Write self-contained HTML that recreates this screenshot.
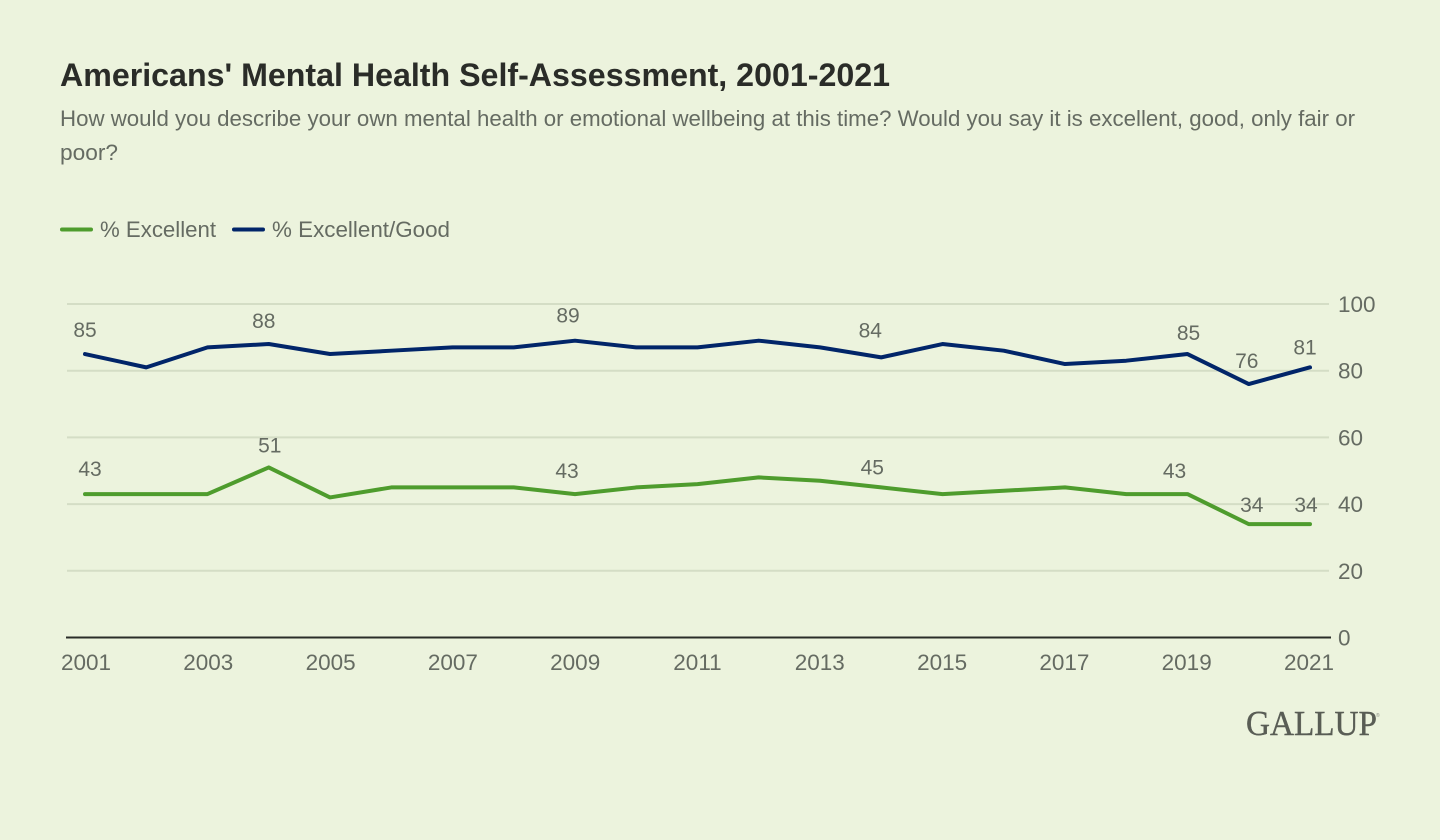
<!DOCTYPE html>
<html lang="en">
<head>
<meta charset="utf-8">
<title>Americans' Mental Health Self-Assessment, 2001-2021</title>
<style>
  html, body { margin: 0; padding: 0; background: #ecf3dd; }
  svg { display: block; }
  text { font-family: "Liberation Sans", sans-serif; }
</style>
</head>
<body>
<svg id="chart" width="1440" height="840" viewBox="0 0 1440 840" xmlns="http://www.w3.org/2000/svg">
  <rect x="0" y="0" width="1440" height="840" fill="#ecf3dd"/>
  <text x="60" y="86" font-size="32" font-weight="700" fill="#2a2c28" textLength="830" lengthAdjust="spacingAndGlyphs">Americans' Mental Health Self-Assessment, 2001-2021</text>
  <text x="60" y="126" font-size="22" fill="#656b62" textLength="1295" lengthAdjust="spacingAndGlyphs">How would you describe your own mental health or emotional wellbeing at this time? Would you say it is excellent, good, only fair or</text>
  <text x="60" y="160" font-size="22" fill="#656b62" textLength="58" lengthAdjust="spacingAndGlyphs">poor?</text>

  <g>
    <line x1="62" y1="229.5" x2="91" y2="229.5" stroke="#4e9c2d" stroke-width="4" stroke-linecap="round"/>
    <text x="100" y="237" font-size="22" fill="#656b62" textLength="116" lengthAdjust="spacingAndGlyphs">% Excellent</text>
    <line x1="234" y1="229.5" x2="263" y2="229.5" stroke="#012569" stroke-width="4" stroke-linecap="round"/>
    <text x="272" y="237" font-size="22" fill="#656b62" textLength="178" lengthAdjust="spacingAndGlyphs">% Excellent/Good</text>
  </g>

  <g id="grid"></g>
  <g id="yaxis"></g>
  <g id="xaxis"></g>
  <g id="series"></g>
  <g id="labels"></g>

  <g>
    <text x="1246" y="735" font-size="35" fill="#595d55" stroke="#595d55" stroke-width="0.4" textLength="131" lengthAdjust="spacingAndGlyphs" style="font-family:'Liberation Serif',serif">GALLUP</text>
    <text x="1376" y="717" font-size="5" fill="#8a8e84">®</text>
  </g>
</svg>

<script>
const years = [2001,2002,2003,2004,2005,2006,2007,2008,2009,2010,2011,2012,2013,2014,2015,2016,2017,2018,2019,2020,2021];
const excellent = [43,43,43,51,42,45,45,45,43,45,46,48,47,45,43,44,45,43,43,34,34];
const excellentGood = [85,81,87,88,85,86,87,87,89,87,87,89,87,84,88,86,82,83,85,76,81];
const yTicks = [0,20,40,60,80,100];
const xTicks = [2001,2003,2005,2007,2009,2011,2013,2015,2017,2019,2021];
const labelledYearsExcellent = [2001,2004,2009,2014,2019,2020,2021];
const labelledYearsGood = [2001,2004,2009,2014,2019,2020,2021];

const NS = 'http://www.w3.org/2000/svg';
function x(year) { return 85 + (year - 2001) * 61.25; }
function y(value) { return 637.5 - value * 3.335; }
function xTickPos(year) { return 86 + (year - 2001) * 61.15; }

function make(tag, parent, attrs, content) {
  const el = document.createElementNS(NS, tag);
  for (const k in attrs) el.setAttribute(k, attrs[k]);
  if (content !== undefined) el.textContent = content;
  parent.appendChild(el);
  return el;
}

const gridG = document.getElementById('grid');
const yG = document.getElementById('yaxis');
const xG = document.getElementById('xaxis');
const seriesG = document.getElementById('series');
const labelsG = document.getElementById('labels');

yTicks.forEach(function (t) {
  const line = make('line', gridG, {
    x1: t === 0 ? 66 : 67, x2: t === 0 ? 1331 : 1329, y1: y(t), y2: y(t),
    stroke: t === 0 ? '#2a2c28' : '#d4ddc5', 'stroke-width': 2
  });
  
  
  const label = make('text', yG, {
    x: 1338, y: y(t) + 8, 'font-size': 22.5, fill: '#656b62'
  }, String(t));
  
  
});

xTicks.forEach(function (t) {
  const label = make('text', xG, {
    x: xTickPos(t), y: 670, 'font-size': 22.5, fill: '#656b62', 'text-anchor': 'middle'
  }, String(t));
  
  
});

function drawLine(values, color, name) {
  const pts = values.map(function (v, i) { return x(years[i]) + ',' + y(v); }).join(' ');
  const line = make('polyline', seriesG, {
    points: pts, fill: 'none', stroke: color, 'stroke-width': 4,
    'stroke-linecap': 'round', 'stroke-linejoin': 'round'
  });
  
  
}
drawLine(excellent, '#4e9c2d', 'line-excellent');
drawLine(excellentGood, '#012569', 'line-excellent-good');

/* Hand-placed label nudges relative to each point: year -> [dx, distance above] */
const nudgeGood = {2001:[0,17],2004:[-5,16],2009:[-7,18],2014:[-11,20],2019:[1,14],2020:[-2,16],2021:[-5,13]};
const nudgeExcellent = {2001:[5,18],2004:[1,15],2009:[-8,16],2014:[-9,13],2019:[-13,16],2020:[3,12],2021:[-4,12]};

function drawLabels(labelYears, values, nudges, name) {
  labelYears.forEach(function (yr) {
    const v = values[years.indexOf(yr)];
    const n = nudges[yr] || [0, 16];
    const label = make('text', labelsG, {
      x: x(yr) + n[0], y: y(v) - n[1], 'font-size': 21, fill: '#656b62', 'text-anchor': 'middle'
    }, String(v));
    
    
  });
}
drawLabels(labelledYearsGood, excellentGood, nudgeGood, 'value-label-excellent-good');
drawLabels(labelledYearsExcellent, excellent, nudgeExcellent, 'value-label-excellent');
</script>
</body>
</html>
